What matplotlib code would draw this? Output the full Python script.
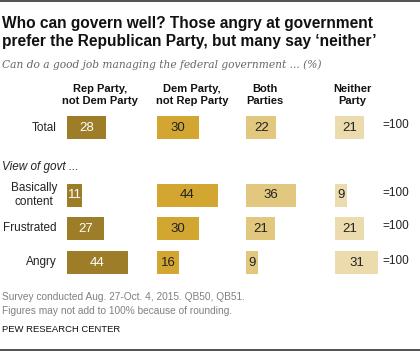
import matplotlib
matplotlib.use("Agg")
import matplotlib.pyplot as plt

# ============================================================
# Data
# ============================================================

row_labels = ["Total", "Basically\ncontent", "Frustrated", "Angry"]
rep_only = [28, 11, 27, 44]
dem_only = [30, 44, 30, 16]
both = [22, 36, 21, 9]
neither = [21, 9, 21, 31]
headers = ["Rep Party,\nnot Dem Party", "Dem Party,\nnot Rep Party", "Both\nParties", "Neither\nParty"]

# ============================================================
# Layout (pixels, figure is 420x352)
# ============================================================

W, H = 420, 352
PX_PER_PCT = 1.385
X0 = 67                                # left edge of first column
col_px = [67, 157, 246, 335]           # column starts
row_y = [127.5, 195, 228, 262.5]       # bar centres
BAR_H = 23
colors = ["#9d7d27", "#d2a630", "#e1c87e", "#ecdcad"]
label_colors = ["white", "#222222", "#222222", "#222222"]

SANS = ["Liberation Sans", "DejaVu Sans"]
plt.rcParams["font.family"] = SANS

fig = plt.figure(figsize=(W / 100, H / 100), dpi=100)
ax = fig.add_axes([X0 / W, 0, (W - X0) / W, 1])
ax.set_xlim(0, (W - X0) / PX_PER_PCT)
ax.set_ylim(H, 0)
ax.axis("off")


def fx(px):
    return px / W


def fy(py):
    return 1 - py / H


series = [rep_only, dem_only, both, neither]
for j, vals in enumerate(series):
    off = (col_px[j] - X0) / PX_PER_PCT
    ax.barh(row_y, vals, left=off, height=BAR_H, color=colors[j], linewidth=0)
    for y, v in zip(row_y, vals):
        ax.text(off + v / 2, y + 0.5, str(v), ha="center", va="center",
                fontsize=9.5, color=label_colors[j])

# headers
head_cx = [100, 192, 265, 352]
for cx, h in zip(head_cx, headers):
    fig.text(fx(cx), fy(84), h, ha="center", va="top", fontsize=8,
             fontweight="bold", color="#111111", linespacing=1.25)

# row labels
for y, lab in zip(row_y, row_labels):
    fig.text(fx(57), fy(y), lab, ha="right", va="center", fontsize=8.5,
             color="#222222", linespacing=1.3, multialignment="center")
    fig.text(fx(382), fy(y - 2), "=100", ha="left", va="center", fontsize=8.5,
             color="#222222")

fig.text(fx(2), fy(167), "View of govt ...", ha="left", va="center",
         fontsize=8.5, style="italic", color="#222222")

# title / subtitle
fig.text(fx(2), fy(16), "Who can govern well? Those angry at government\n"
         "prefer the Republican Party, but many say \u2018neither\u2019",
         ha="left", va="top", fontsize=11.2, fontweight="bold",
         color="#111111", linespacing=1.25)
fig.text(fx(2), fy(65), "Can do a good job managing the federal government ... (%)",
         ha="left", va="center", fontsize=7.7, style="italic", color="#666666",
         family=["DejaVu Serif"])

# footer
fig.text(fx(2), fy(304), "Survey conducted Aug. 27-Oct. 4, 2015. QB50, QB51.\n"
         "Figures may not add to 100% because of rounding.",
         ha="left", va="center", fontsize=7.3, color="#808080", linespacing=1.4)
fig.text(fx(2), fy(329), "PEW RESEARCH CENTER", ha="left", va="center",
         fontsize=6.8, color="#111111")

# top and bottom rules
fig.add_artist(plt.Line2D([0, 1], [fy(1), fy(1)], color="#333333", linewidth=1.2))
fig.add_artist(plt.Line2D([0, 1], [fy(349.5), fy(349.5)], color="#333333", linewidth=1.2))

fig.savefig("out.png", dpi=100)
